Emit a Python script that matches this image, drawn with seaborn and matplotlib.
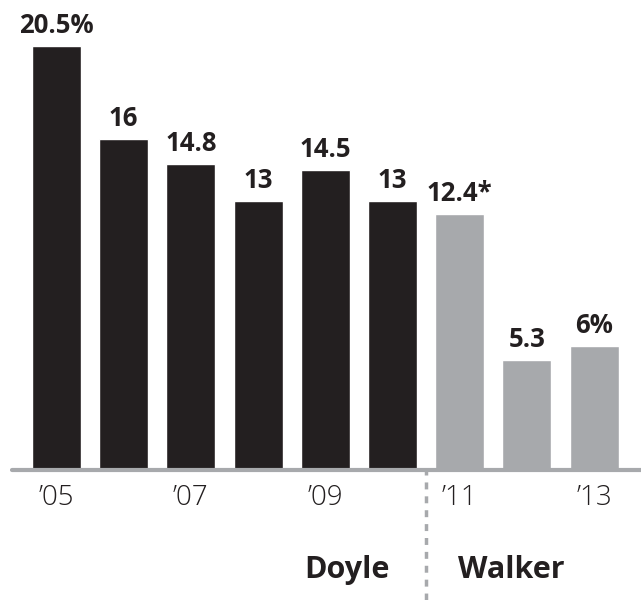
import matplotlib
matplotlib.use("Agg")
import matplotlib.pyplot as plt
import seaborn as sns
import pandas as pd

years = ["2005", "2006", "2007", "2008", "2009", "2010", "2011", "2012", "2013"]
values = [20.5, 16, 14.8, 13, 14.5, 13, 12.4, 5.3, 6]
value_labels = ["20.5%", "16", "14.8", "13", "14.5", "13", "12.4*", "5.3", "6%"]
tick_labels = ["\u201905", "", "\u201907", "", "\u201909", "", "\u201911", "", "\u201913"]
governor = ["Doyle"] * 6 + ["Walker"] * 3
colors = {"Doyle": "#231f20", "Walker": "#a7a9ac"}

df = pd.DataFrame({"year": years, "value": values, "governor": governor})

sns.set_theme(style="white")
plt.rcParams["font.family"] = ["Open Sans", "DejaVu Sans"]

fig = plt.figure(figsize=(6.41, 6.0), dpi=100)
ax = fig.add_axes([0, 130 / 600, 1, 470 / 600])

sns.barplot(data=df, x="year", y="value", hue="governor", palette=colors,
            dodge=False, width=0.73, saturation=1, legend=False, ax=ax)

ax.set_xlim(-56.5 / 67.2, (641 - 56.5) / 67.2)
ax.set_ylim(0, 470 / 20.68)

for i, (v, lab) in enumerate(zip(values, value_labels)):
    ax.annotate(lab, (i, v), xytext=(0, 5), textcoords="offset points",
                ha="center", va="bottom", fontsize=18.5, fontweight="bold",
                color="#231f20")

ax.axhline(0, xmin=12 / 641, xmax=1, color="#a7a9ac", lw=3, clip_on=False, zorder=5)
ax.axvline(5.5, ymin=-130 / 470, ymax=0, color="#a7a9ac", lw=2.5,
           linestyle=(0, (2, 2)), clip_on=False)

ax.set_xticks(range(len(years)))
ax.set_xticklabels(tick_labels, fontsize=20, fontweight="light", color="#231f20")
ax.tick_params(axis="x", length=0, pad=10)
ax.set_yticks([])
ax.set_xlabel("")
ax.set_ylabel("")
for s in ax.spines.values():
    s.set_visible(False)

fig.text(347 / 641, 1 - 570 / 600, "Doyle", ha="center", va="center",
         fontsize=22, fontweight="bold", color="#231f20")
fig.text(511 / 641, 1 - 570 / 600, "Walker", ha="center", va="center",
         fontsize=22, fontweight="bold", color="#231f20")

fig.savefig("out.png", dpi=100, facecolor="white")
